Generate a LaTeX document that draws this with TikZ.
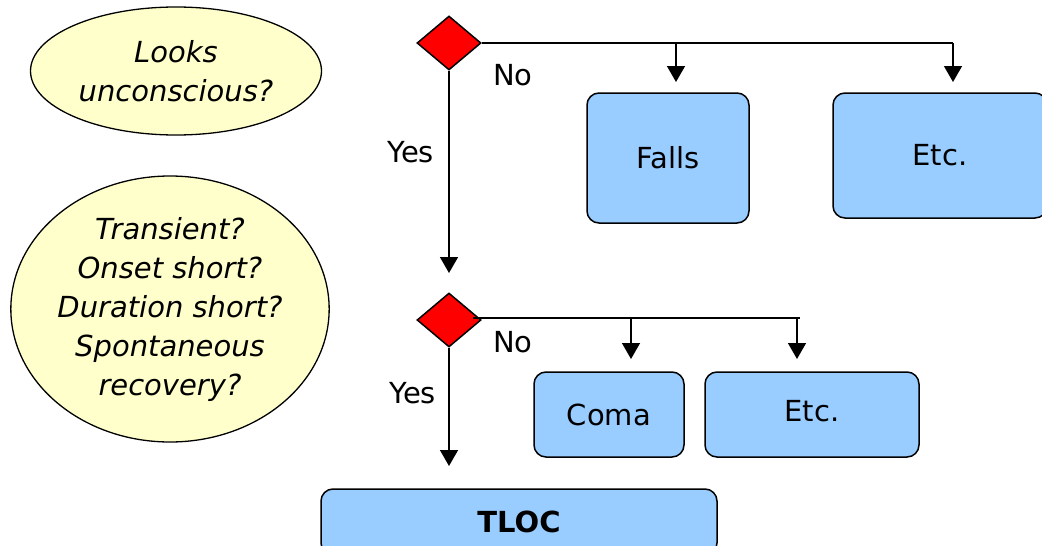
\documentclass[tikz,border=0pt]{standalone}
\usepackage{fontspec}
\setmainfont{DejaVu Sans}
\usetikzlibrary{shapes.geometric,arrows.meta}
\definecolor{boxblue}{HTML}{99CCFF}
\definecolor{ellyellow}{HTML}{FFFFCC}
\definecolor{decred}{HTML}{FF0000}
\begin{document}
\begin{tikzpicture}[x=1pt,y=-1pt,
  every node/.style={font=\fontsize{29}{39}\selectfont},
  bubble/.style={ellipse,draw=black,line width=1.3pt,fill=ellyellow,align=center,inner sep=0pt,font=\fontsize{29}{39}\selectfont\itshape},
  decision/.style={diamond,draw=black,line width=1.5pt,fill=decred,inner sep=0pt,minimum width=64pt,minimum height=54pt},
  outcome/.style={rectangle,rounded corners=12pt,draw=black,line width=1.5pt,fill=boxblue,inner sep=0pt},
  link/.style={line width=1.5pt,draw=black},
  arr/.style={link,-{Triangle[width=18pt,length=16pt]}},
  lbl/.style={anchor=base west,inner sep=0pt}]
\useasboundingbox (0,0) rectangle (1042,546);
% ellipses
\node[bubble,minimum width=291pt,minimum height=128pt] (q1) at (176,71) {Looks\\unconscious?};
\node[bubble,minimum width=318pt,minimum height=266pt] (q2) at (170,309) {Transient?\\Onset short?\\Duration short?\\Spontaneous\\recovery?};
% decisions
\node[decision] (d1) at (449,43) {};
\node[decision] (d2) at (449,320) {};
% boxes
\node[outcome,minimum width=162pt,minimum height=130pt] (falls) at (668,158) {Falls};
\node[outcome,minimum width=214pt,minimum height=125pt] (etc1) at (940,155.5) {Etc.};
\node[outcome,minimum width=150pt,minimum height=85pt] (coma) at (609,414.5) {Coma};
\node[outcome,minimum width=214pt,minimum height=85pt,text depth=8pt] (etc2) at (812,414.5) {Etc.};
\node[outcome,minimum width=396pt,minimum height=66pt,font=\fontsize{29}{39}\selectfont\bfseries] (tloc) at (519,522) {TLOC};
% connector coordinates
\coordinate (h1end) at (953,43);
\coordinate (h1a) at (676,43);
\coordinate (t1a) at (676,82);
\coordinate (t1b) at (953,82);
\coordinate (v1end) at (449,273);
\coordinate (h2end) at (800,318);
\coordinate (h2start) at (473,318);
\coordinate (h2a) at (631,318);
\coordinate (h2b) at (797,318);
\coordinate (t2a) at (631,359);
\coordinate (t2b) at (797,359);
\coordinate (v2end) at (449,466);
% connectors
\draw[link] (d1.east) -- (h1end);
\draw[arr] (h1a) -- (t1a);
\draw[arr] (h1end) -- (t1b);
\draw[arr] (d1.south) -- (v1end);
\draw[link] (h2start) -- (h2end);
\draw[arr] (h2a) -- (t2a);
\draw[arr] (h2b) -- (t2b);
\draw[arr] (d2.south) -- (v2end);
% labels
\node[lbl] (no1) at (493,85) {No};
\node[lbl] (yes1) at (387,162) {Yes};
\node[lbl] (no2) at (493,352) {No};
\node[lbl] (yes2) at (389,403) {Yes};
\end{tikzpicture}
\end{document}
